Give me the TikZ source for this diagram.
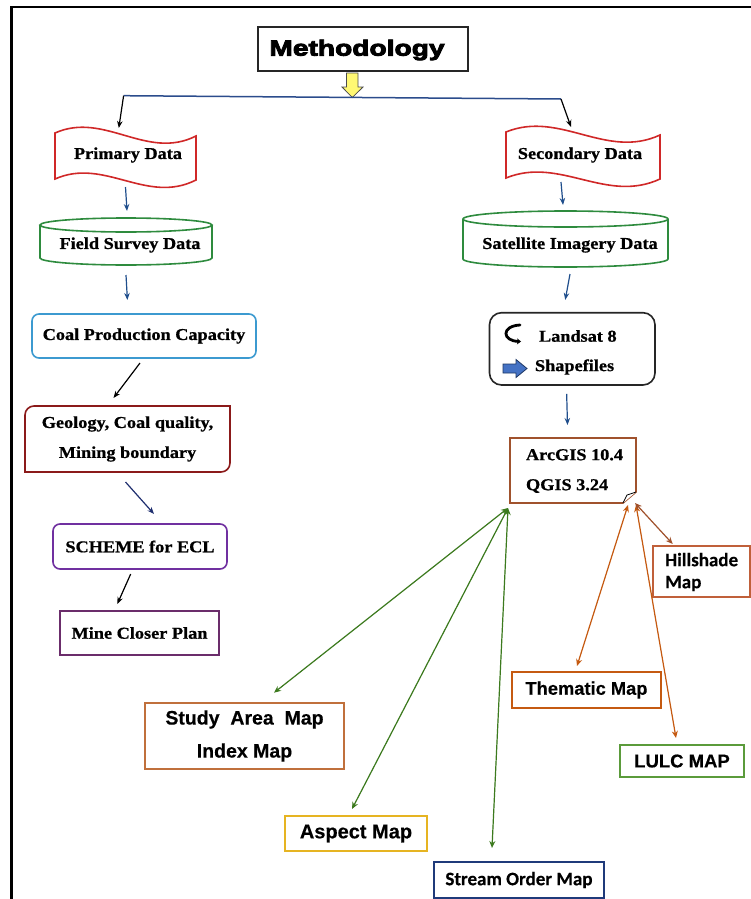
\documentclass[tikz,border=0pt]{standalone}
\usepackage{fontspec}
\usetikzlibrary{arrows.meta,calc}
\newfontfamily\serifB[FakeStretch=1.1,FakeBold=0.8]{Liberation Serif}
\newfontfamily\sansB[FakeBold=0.4]{Liberation Sans}
\newfontfamily\calB[FakeBold=0.4]{Carlito}
\newfontfamily\heavyB[FakeBold=4,FakeStretch=1.28]{Liberation Sans}
\definecolor{wavered}{HTML}{D02828}
\definecolor{cylgreen}{HTML}{2E8B3E}
\definecolor{coalblue}{HTML}{3C9AD0}
\definecolor{geored}{HTML}{8B1A1A}
\definecolor{schpurple}{HTML}{7030A0}
\definecolor{minepurple}{HTML}{6B2D6B}
\definecolor{arcbrown}{HTML}{A0522D}
\definecolor{studyor}{HTML}{C0703C}
\definecolor{aspgold}{HTML}{E6B422}
\definecolor{strnavy}{HTML}{1F3A7A}
\definecolor{themor}{HTML}{C55A11}
\definecolor{lulcgreen}{HTML}{5B9B3B}
\definecolor{hillor}{HTML}{C0603A}
\definecolor{garrow}{HTML}{3C7A1E}
\definecolor{oarrow}{HTML}{C55A11}
\definecolor{linkblue}{HTML}{1F4E8C}
\definecolor{linknavy}{HTML}{1F2F6F}
\definecolor{hlblue}{HTML}{2B4C8C}
\definecolor{iconblue}{HTML}{4472C4}
\definecolor{icondark}{HTML}{1F3864}
\tikzset{
  tx/.style={inner sep=0pt, outer sep=0pt, font=\serifB\bfseries\fontsize{16.6}{30}\selectfont, align=center},
  bx/.style={draw, line width=1.6pt, inner sep=0pt, outer sep=0pt},
  sx/.style={font=\sansB\bfseries\fontsize{19.5}{33}\selectfont, align=center},
  cx/.style={font=\calB\bfseries\fontsize{19}{22}\selectfont, align=left},
  arr/.style={-{Stealth[length=7pt,width=5.5pt]}, line width=1.2pt},
  garr/.style={{Stealth[length=7pt,width=6pt]}-{Stealth[length=7pt,width=6pt]}, line width=1.2pt, draw=garrow, fill=garrow},
  oarr/.style={{Stealth[length=7pt,width=6pt]}-{Stealth[length=7pt,width=6pt]}, line width=1.2pt, draw=oarrow, fill=oarrow},
  wavestyle/.style={draw=wavered, line width=1.6pt},
  cylstyle/.style={draw=cylgreen, line width=1.6pt}
}
\newcommand\wavy[3]{\draw[wavestyle] (#1,#3) .. controls ({#1+0.35*(#2-#1)},{#3-22}) and ({#1+0.65*(#2-#1)},{#3+28}) .. (#2,{#3+3}) -- (#2,{#3+47}) .. controls ({#1+0.65*(#2-#1)},{#3+72}) and ({#1+0.35*(#2-#1)},{#3+24}) .. (#1,{#3+46}) -- cycle;}
\newcommand\cyl[5]{%
  \draw[cylstyle] ({(#1+#2)/2},{#3+#5}) ellipse [x radius={((#2-#1)/2)*1pt}, y radius={#5*1pt}];
  \draw[cylstyle] (#1,{#3+#5}) -- (#1,{#4-#5}) arc[start angle=180, end angle=360, x radius={((#2-#1)/2)*1pt}, y radius={#5*1pt}] -- (#2,{#3+#5});}
\begin{document}
\begin{tikzpicture}[x=1pt,y=-1pt]
\useasboundingbox (0,0) rectangle (751,899);
\fill[white] (0,0) rectangle (751,899);
% frame
\draw[line width=2.5pt] (11.7,899) -- (11.7,7) -- (751,7);

% Methodology
\node[bx, line width=2pt, draw=black!85, minimum width=210pt, minimum height=44pt] (methbox) at (363,49) {};
\node[inner sep=0pt, font=\heavyB\bfseries\fontsize{22}{26}\selectfont] (meth) at (357,50) {Methodology};
\draw[fill=yellow!55, draw=black!70, line width=0.8pt] (346.5,73) -- (358,73) -- (358,87) -- (363,87) -- (352.3,97.5) -- (342,87) -- (346.5,87) -- cycle;
\coordinate (hl) at (123.6,95.7);
\coordinate (hr) at (561,99);
\draw[hlblue, line width=1.5pt] (hl) -- (hr);

% Primary / Secondary
\wavy{55}{196}{133}
\wavy{506}{660}{132}
\node[tx] (prim) at (128,155) {Primary Data};
\node[tx] (sec) at (580,155) {Secondary Data};

% cylinders
\cyl{40}{212}{218}{265}{7}
\cyl{463}{668}{211}{267}{8}
\node[tx] (field) at (130,245) {Field Survey Data};
\node[tx] (sat) at (570,245) {Satellite Imagery Data};

% left column boxes
\node[bx, draw=coalblue, rounded corners=7pt, minimum width=224pt, minimum height=44pt, tx] (coal) at (144,336) {Coal Production Capacity};
\node[tx, minimum width=205pt, minimum height=66pt] (geo) at (127.5,439) {Geology, Coal quality,\\Mining boundary};
\draw[draw=geored, line width=1.6pt] (25,472) -- (25,415) to[out=90,in=180] (34,406) -- (230,406) -- (230,463) to[out=270,in=0] (221,472) -- cycle;
\node[bx, draw=schpurple, rounded corners=7pt, minimum width=174pt, minimum height=45pt, tx] (scheme) at (140,546.5) {SCHEME for ECL};
\node[bx, draw=minepurple, line width=2.4pt, minimum width=159pt, minimum height=44pt, tx] (mine) at (139.5,633) {Mine Closer Plan};

% right column
\node[bx, draw=black!85, rounded corners=12pt, minimum width=165.5pt, minimum height=72.3pt] (landsat) at (572.25,348.85) {};
\draw[line width=2.8pt, line cap=round, -{Stealth[length=4pt,width=6pt]}] (520,325) .. controls (501,326) and (502,341) .. (521,341.5);
\draw[fill=iconblue, draw=icondark, line width=0.8pt] (503,364) -- (516,364) -- (516,359.5) -- (527,368.5) -- (516,377.5) -- (516,373) -- (503,373) -- cycle;
\node[tx, anchor=west] (ls1) at (539,336) {Landsat 8};
\node[tx, anchor=west] (ls2) at (535,367) {Shapefiles};

\node[inner sep=0pt, minimum width=126pt, minimum height=65pt] (arc) at (573,470.5) {};
\draw[draw=arcbrown, line width=1.6pt] (510,438) -- (636,438) -- (636,492) -- (623,503) -- (510,503) -- cycle;
\draw[fill=white, draw=black, line width=0.8pt] (636,492) -- (627,495) -- (623,503);
\node[tx, anchor=west, align=left] (arctext) at (526,471) {ArcGIS 10.4\\QGIS 3.24};

% output maps
\node[bx, draw=studyor, minimum width=199pt, minimum height=66pt, sx] (study) at (244.5,736) {Study\ \ Area\ \ Map\\Index Map};
\node[bx, draw=aspgold, minimum width=142pt, minimum height=35pt, sx, font=\sansB\bfseries\fontsize{20}{24}\selectfont] (aspect) at (356,833.5) {Aspect Map};
\node[bx, draw=strnavy, minimum width=170pt, minimum height=36pt, cx] (stream) at (519,880) {Stream Order Map};
\node[bx, draw=themor, minimum width=149pt, minimum height=36pt, sx, font=\sansB\bfseries\fontsize{18.3}{22}\selectfont] (thematic) at (586.5,690) {Thematic Map};
\node[bx, draw=lulcgreen, minimum width=124pt, minimum height=32pt, sx, font=\sansB\bfseries\fontsize{18.5}{22}\selectfont] (lulc) at (682,761) {LULC MAP};
\node[bx, draw=hillor, minimum width=97pt, minimum height=51pt] (hill) at (701.5,571.5) {};
\node[cx, anchor=west, inner sep=0pt] (hilltext) at (665,572) {Hillshade\\Map};

% connectors
\draw[arr] (hl) -- ($(prim)+(-9.2,-27)$);
\draw[arr] (hr) -- ($(sec)+(-9,-28)$);
\draw[arr, linkblue] ($(prim)+(-2.5,32)$) -- ($(field)+(-3,-34)$);
\draw[arr, linkblue] ($(sec)+(-19,27)$) -- ($(sat)+(-7,-40)$);
\draw[arr, linkblue] ($(field)+(-4,30)$) -- ($(coal)+(-16.6,-36)$);
\draw[arr, linkblue] ($(sat)+(0,29)$) -- ($(landsat)+(-7,-49)$);
\draw[arr] ($(coal)+(-4,27)$) -- ($(geo)+(-14,-41)$);
\draw[arr, linkblue] ($(landsat)+(-5.6,45)$) -- ($(arc)+(-5.5,-45.5)$);
\draw[arr, linknavy] ($(geo)+(-2,43)$) -- ($(scheme)+(14,-32.5)$);
\draw[arr] ($(scheme)+(-9.3,27.5)$) -- ($(mine)+(-22.2,-29)$);

\draw[garr] ($(arc)+(-65,37.5)$) -- ($(study)+(29.5,-43.3)$);
\draw[garr] ($(arc)+(-65,37.5)$) -- ($(aspect)+(-4,-24.5)$);
\draw[garr] ($(arc)+(-65,37.5)$) -- ($(stream)+(-27,-32)$);
\draw[oarr] ($(arc)+(55,34.5)$) -- ($(thematic)+(-9.5,-24)$);
\draw[oarr] ($(arc)+(63,34.5)$) -- ($(lulc)+(-6,-23)$);
\draw[oarr, draw=arcbrown, fill=arcbrown] ($(arc)+(62,32.5)$) -- ($(hill)+(-28.8,-27.5)$);
\end{tikzpicture}
\end{document}
